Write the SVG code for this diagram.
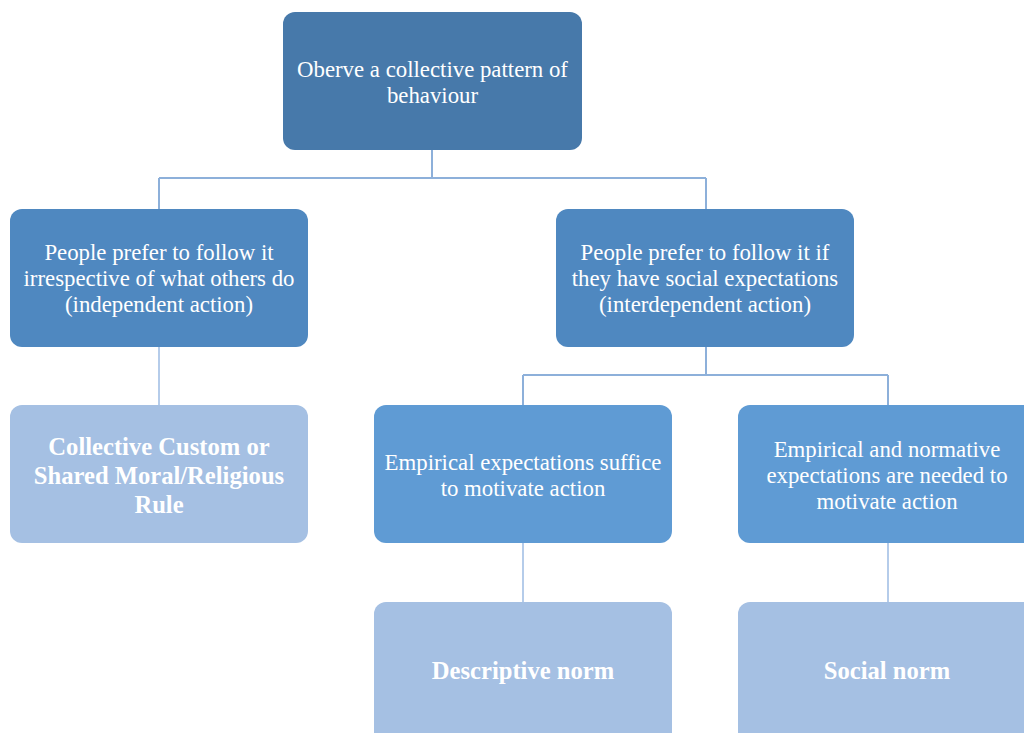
<svg xmlns="http://www.w3.org/2000/svg" width="1024" height="733" viewBox="0 0 1024 733">
  <style>
    .box { stroke: none; }
    .l1 { fill: #4779AA; }
    .l2 { fill: #4F88C0; }
    .l3 { fill: #5F9BD4; }
    .lt { fill: #A5C0E3; }
    .t { font-family: "Liberation Serif", "Times New Roman", serif; font-size: 22.8px; fill: #FFFFFF; text-anchor: middle; }
    .tb { font-family: "Liberation Serif", "Times New Roman", serif; font-size: 24.6px; font-weight: bold; fill: #FFFFFF; text-anchor: middle; }
    .c1 { stroke: #8DB0DA; stroke-width: 2; fill: none; }
    .c2 { stroke: #B5CCEA; stroke-width: 2; fill: none; }
  </style>
  <rect width="1024" height="733" fill="#FFFFFF"/>

  <g id="connectors">
    <path class="c1" d="M432 150 V178 M159 178 H706 M159 178 V209 M706 178 V209"/>
    <path class="c2" d="M159 347 V405"/>
    <path class="c1" d="M706 347 V375 M523 375 H888 M523 375 V405 M888 375 V405"/>
    <path class="c2" d="M523 543 V602 M888 543 V602"/>
  </g>

  <g id="node-observe">
    <rect class="box l1" x="283" y="12" width="299" height="138" rx="12"/>
    <text class="t" x="432.5" y="77">Oberve a collective pattern of</text>
    <text class="t" x="432.5" y="103">behaviour</text>
  </g>

  <g id="node-independent">
    <rect class="box l2" x="10" y="209" width="298" height="138" rx="12"/>
    <text class="t" x="159" y="260">People prefer to follow it</text>
    <text class="t" x="159" y="286">irrespective of what others do</text>
    <text class="t" x="159" y="312">(independent action)</text>
  </g>

  <g id="node-interdependent">
    <rect class="box l2" x="556" y="209" width="298" height="138" rx="12"/>
    <text class="t" x="705" y="260">People prefer to follow it if</text>
    <text class="t" x="705" y="286">they have social expectations</text>
    <text class="t" x="705" y="312">(interdependent action)</text>
  </g>

  <g id="node-custom">
    <rect class="box lt" x="10" y="405" width="298" height="138" rx="12"/>
    <text class="tb" x="159" y="455">Collective Custom or</text>
    <text class="tb" x="159" y="484">Shared Moral/Religious</text>
    <text class="tb" x="159" y="513">Rule</text>
  </g>

  <g id="node-empirical">
    <rect class="box l3" x="374" y="405" width="298" height="138" rx="12"/>
    <text class="t" x="523" y="470">Empirical expectations suffice</text>
    <text class="t" x="523" y="496">to motivate action</text>
  </g>

  <g id="node-normative">
    <rect class="box l3" x="738" y="405" width="298" height="138" rx="12"/>
    <text class="t" x="887" y="457">Empirical and normative</text>
    <text class="t" x="887" y="483">expectations are needed to</text>
    <text class="t" x="887" y="509">motivate action</text>
  </g>

  <g id="node-descriptive">
    <rect class="box lt" x="374" y="602" width="298" height="145" rx="12"/>
    <text class="tb" x="523" y="679">Descriptive norm</text>
  </g>

  <g id="node-social">
    <rect class="box lt" x="738" y="602" width="298" height="145" rx="12"/>
    <text class="tb" x="887" y="679">Social norm</text>
  </g>
</svg>
